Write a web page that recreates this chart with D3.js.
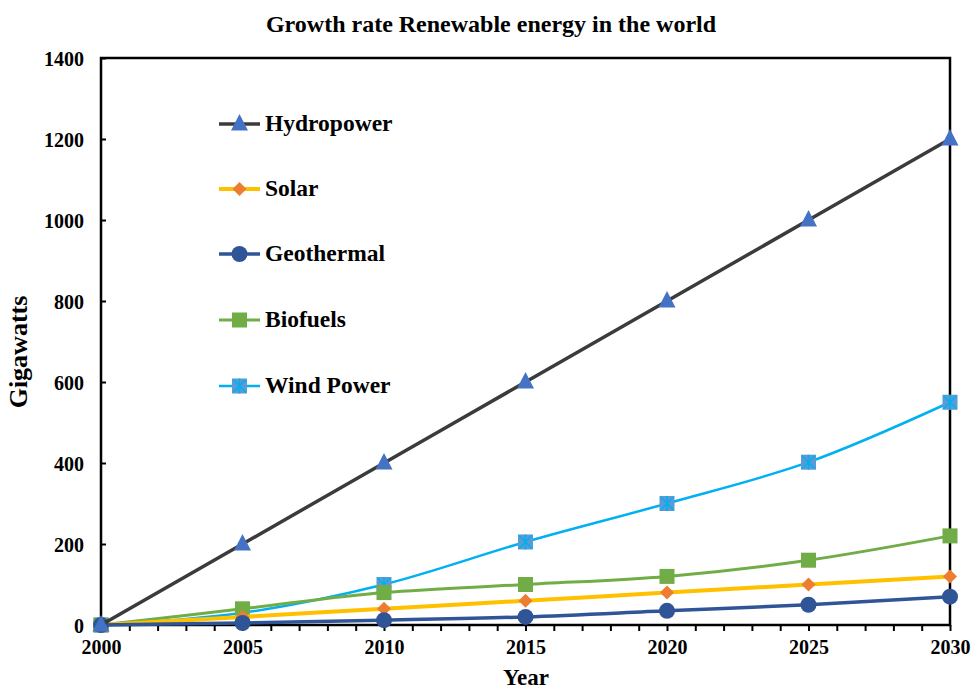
<!DOCTYPE html>
<html>
<head>
<meta charset="utf-8">
<script src="https://cdn.jsdelivr.net/npm/d3@7"></script>
<style>
  html, body { margin: 0; padding: 0; background: #fff; }
  text { font-family: "Liberation Serif", "Times New Roman", serif; font-weight: bold; fill: #000; }
</style>
</head>
<body>
<svg id="chart" width="971" height="690"></svg>
<script>
// Installed capacity projections (gigawatts) by year
const years = [2000, 2005, 2010, 2015, 2020, 2025, 2030];
const hydropower = [0, 200, 400, 600, 800, 1000, 1200];
const solar = [0, 20, 40, 60, 80, 100, 120];
const geothermal = [0, 5, 12, 20, 35, 50, 70];
const biofuels = [0, 40, 80, 100, 120, 160, 220];
const windPower = [0, 30, 100, 205, 300, 402, 550];
const yTicks = [0, 200, 400, 600, 800, 1000, 1200, 1400];
const xTicks = [2000, 2005, 2010, 2015, 2020, 2025, 2030];

const series = [
  { name: "Hydropower", values: hydropower, line: "#3b3b3b", width: 3.5, fill: "#4472C4", shape: "triangle" },
  { name: "Solar", values: solar, line: "#FFC000", width: 4, fill: "#ED7D31", shape: "diamond" },
  { name: "Geothermal", values: geothermal, line: "#2F5597", width: 3.5, fill: "#2F5597", shape: "circle" },
  { name: "Biofuels", values: biofuels, line: "#70AD47", width: 3, fill: "#70AD47", shape: "square" },
  { name: "Wind Power", values: windPower, line: "#00B0F0", width: 2.5, fill: "#5B9BD5", shape: "starSquare" }
];

const svg = d3.select("#chart");
const margin = { left: 101, right: 950, top: 58, bottom: 625 };

const x = d3.scaleLinear().domain([2000, 2030]).range([margin.left, margin.right]);
const y = d3.scaleLinear().domain([0, 1400]).range([margin.bottom, margin.top]);

// Title
svg.append("text")
  .attr("x", 491).attr("y", 32)
  .attr("text-anchor", "middle")
  .style("font-size", "24px")
  .text("Growth rate Renewable energy in the world");

// Plot frame
svg.append("rect")
  .attr("x", margin.left).attr("y", margin.top)
  .attr("width", margin.right - margin.left).attr("height", margin.bottom - margin.top)
  .attr("fill", "none").attr("stroke", "#000").attr("stroke-width", 2.5);

// Y axis (ticks drawn inward)
const yAxis = svg.append("g")
  .attr("transform", `translate(${margin.left},0)`)
  .call(d3.axisLeft(y).tickValues(yTicks).tickSizeInner(-5).tickSizeOuter(0).tickPadding(17).tickFormat(d3.format("d")));
yAxis.attr("font-size", null).attr("font-family", null);
yAxis.select(".domain").remove();
yAxis.selectAll("line").attr("stroke", "#000").attr("stroke-width", 2);
yAxis.selectAll("text").style("font-size", "20px").attr("dy", "0.35em");

// X axis: minor ticks every year, labels every five
const xMinor = svg.append("g")
  .attr("transform", `translate(0,${margin.bottom})`)
  .call(d3.axisBottom(x).tickValues(d3.range(2000, 2031)).tickSize(6).tickFormat(""));
xMinor.select(".domain").remove();
xMinor.selectAll("line").attr("stroke", "#000").attr("stroke-width", 2);

const xAxis = svg.append("g")
  .attr("transform", `translate(0,${margin.bottom})`)
  .call(d3.axisBottom(x).tickValues(xTicks).tickSize(0).tickPadding(15).tickFormat(d3.format("d")));
xAxis.attr("font-size", null).attr("font-family", null);
xAxis.select(".domain").remove();
xAxis.selectAll("text").style("font-size", "20px");

// Axis titles
svg.append("text")
  .attr("x", 526).attr("y", 685)
  .attr("text-anchor", "middle")
  .style("font-size", "23px")
  .text("Year");
svg.append("text")
  .attr("transform", "translate(27,352) rotate(-90)")
  .attr("text-anchor", "middle")
  .style("font-size", "26px")
  .text("Gigawatts");

const line = d3.line()
  .x((d, i) => x(years[i]))
  .y(d => y(d))
  .curve(d3.curveCatmullRom.alpha(0.5));

function drawMarker(g, shape, fill, cx, cy) {
  if (shape === "triangle") {
    g.append("path")
      .attr("d", `M${cx},${cy - 10} L${cx + 8.5},${cy + 6.5} L${cx - 8.5},${cy + 6.5} Z`)
      .attr("fill", fill);
  } else if (shape === "diamond") {
    g.append("path")
      .attr("d", `M${cx},${cy - 7} L${cx + 7},${cy} L${cx},${cy + 7} L${cx - 7},${cy} Z`)
      .attr("fill", fill);
  } else if (shape === "circle") {
    g.append("circle").attr("cx", cx).attr("cy", cy).attr("r", 8).attr("fill", fill);
  } else if (shape === "square") {
    g.append("rect").attr("x", cx - 7.5).attr("y", cy - 7.5).attr("width", 15).attr("height", 15).attr("fill", fill);
  } else if (shape === "starSquare") {
    g.append("rect").attr("x", cx - 7.5).attr("y", cy - 7.5).attr("width", 15).attr("height", 15).attr("fill", fill);
    g.append("path")
      .attr("d", `M${cx - 6.5},${cy - 6.5} L${cx + 6.5},${cy + 6.5} M${cx + 6.5},${cy - 6.5} L${cx - 6.5},${cy + 6.5} M${cx},${cy - 7.5} L${cx},${cy + 7.5}`)
      .attr("stroke", "#00B0F0").attr("stroke-width", 1.5).attr("fill", "none");
  }
}

// Series lines and markers (drawn so the hydropower line sits on top)
const drawOrder = [4, 3, 1, 2, 0];
drawOrder.forEach(k => {
  const s = series[k];
  const g = svg.append("g");
  g.append("path")
    .datum(s.values)
    .attr("d", line)
    .attr("fill", "none")
    .attr("stroke", s.line)
    .attr("stroke-width", s.width)
    .attr("stroke-linejoin", "round");
  s.values.forEach((v, i) => drawMarker(g, s.shape, s.fill, x(years[i]), y(v)));
});

// Legend
const legendY = [124, 189, 254, 320, 386];
series.forEach((s, i) => {
  const g = svg.append("g");
  const ly = legendY[i];
  g.append("line")
    .attr("x1", 219).attr("x2", 260).attr("y1", ly).attr("y2", ly)
    .attr("stroke", s.line).attr("stroke-width", s.width);
  drawMarker(g, s.shape, s.fill, 239.5, ly);
  g.append("text")
    .attr("x", 265).attr("y", ly + 7)
    .style("font-size", "23.5px")
    .text(s.name);
});
</script>
</body>
</html>
